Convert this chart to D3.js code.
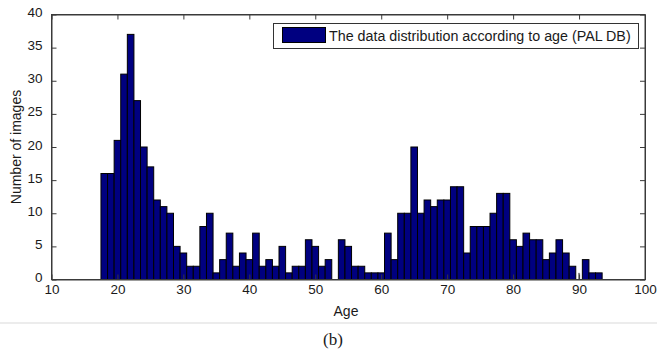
<!DOCTYPE html>
<html>
<head>
<meta charset="utf-8">
<script src="https://cdn.jsdelivr.net/npm/d3@7"></script>
<style>
  body { margin: 0; background: #fff; }
  svg text { font-family: "Liberation Sans", Arial, sans-serif; fill: #1a1a1a; }
</style>
</head>
<body>
<div id="vis"></div>
<script>
// ages (one bar per year) and how many images fall in each
var ages = [18, 19, 20, 21, 22, 23, 24, 25, 26, 27, 28, 29, 30, 31, 32, 33, 34, 35,
    36, 37, 38, 39, 40, 41, 42, 43, 44, 45, 46, 47, 48, 49, 50, 51, 52, 53, 54, 55,
    56, 57, 58, 59, 60, 61, 62, 63, 64, 65, 66, 67, 68, 69, 70, 71, 72, 73, 74, 75,
    76, 77, 78, 79, 80, 81, 82, 83, 84, 85, 86, 87, 88, 89, 90, 91, 92, 93];
var counts = [16, 16, 21, 31, 37, 27, 20, 17, 12, 11, 10, 5, 4, 2, 2, 8, 10, 1,
    3, 7, 2, 4, 3, 7, 2, 3, 2, 5, 1, 2, 2, 6, 5, 2, 3, 0, 6, 5,
    2, 2, 1, 1, 1, 7, 3, 10, 10, 20, 10, 12, 11, 12, 12, 14, 14, 4, 8, 8,
    8, 10, 13, 13, 6, 5, 7, 6, 6, 3, 4, 6, 4, 2, 1, 3, 1, 1];
// the bar at 90 only shows up as a thin sliver in the original
var sliverAges = [90];

var xTicks = [10, 20, 30, 40, 50, 60, 70, 80, 90, 100];
var yTicks = [0, 5, 10, 15, 20, 25, 30, 35, 40];
var legendLabel = "The data distribution according to age (PAL DB)";

var width = 657, height = 351;
var plotL = 51.5, plotR = 645, plotT = 14.5, plotB = 279.5;

var svg = d3.select("#vis").append("svg")
    .attr("width", width)
    .attr("height", height);

var x = d3.scaleLinear().domain([10, 100]).range([plotL, plotR]);
var y = d3.scaleLinear().domain([0, 40]).range([plotB, plotT]);

var data = ages.map(function (a, i) { return {age: a, n: counts[i]}; });
function isSliver(d) { return sliverAges.indexOf(d.age) >= 0; }

// bars
svg.append("g").selectAll("rect")
    .data(data.filter(function (d) { return d.n > 0; }))
    .enter().append("rect")
    .attr("x", function (d) {
        return isSliver(d) ? x(d.age) - 1 : x(d.age - 0.5);
    })
    .attr("width", function (d) {
        return isSliver(d) ? 2 : x(d.age + 0.5) - x(d.age - 0.5);
    })
    .attr("y", function (d) { return y(d.n); })
    .attr("height", function (d) { return y(0) - y(d.n); })
    .attr("fill", function (d) { return isSliver(d) ? "#888" : "#000080"; })
    .attr("stroke", function (d) { return isSliver(d) ? "none" : "#000"; })
    .attr("stroke-width", 1);

// axes, ticks drawn inward like matlab
var axisColor = "#3a3a3a";
var xb = svg.append("g").attr("transform", "translate(0," + plotB + ")")
    .call(d3.axisBottom(x).tickValues(xTicks).tickSizeInner(-5).tickSizeOuter(0).tickPadding(8));
var xt = svg.append("g").attr("transform", "translate(0," + plotT + ")")
    .call(d3.axisTop(x).tickValues(xTicks).tickSizeInner(-5).tickSizeOuter(0).tickFormat(""));
var yl = svg.append("g").attr("transform", "translate(" + plotL + ",0)")
    .call(d3.axisLeft(y).tickValues(yTicks).tickSizeInner(-5).tickSizeOuter(0).tickPadding(9));
var yr = svg.append("g").attr("transform", "translate(" + plotR + ",0)")
    .call(d3.axisRight(y).tickValues(yTicks).tickSizeInner(-5).tickSizeOuter(0).tickFormat(""));

[xb, xt, yl, yr].forEach(function (g) {
    g.selectAll("path, line").attr("stroke", axisColor);
    g.selectAll("text").style("font-size", "13.5px").attr("fill", "#1a1a1a");
});
yl.selectAll("text").attr("dy", "0.15em");
xb.selectAll("text").attr("dy", "0.45em");

svg.append("rect")
    .attr("x", plotL).attr("y", plotT)
    .attr("width", plotR - plotL).attr("height", plotB - plotT)
    .attr("fill", "none").attr("stroke", axisColor);

// axis titles
svg.append("text")
    .attr("x", 346).attr("y", 316)
    .attr("text-anchor", "middle")
    .style("font-size", "14px")
    .text("Age");

svg.append("text")
    .attr("transform", "translate(21,147) rotate(-90)")
    .attr("text-anchor", "middle")
    .style("font-size", "14px")
    .text("Number of images");

// legend
var lg = svg.append("g");
lg.append("rect")
    .attr("x", 273.5).attr("y", 23.5).attr("width", 365).attr("height", 25)
    .attr("fill", "#fff").attr("stroke", "#333");
lg.append("rect")
    .attr("x", 282.5).attr("y", 27.5).attr("width", 43).attr("height", 15)
    .attr("fill", "#000080").attr("stroke", "#000");
var lt = lg.append("text")
    .attr("x", 329).attr("y", 40.5)
    .style("font-size", "12.5px")
    .text(legendLabel);
var w = lt.node().getComputedTextLength();
lt.style("font-size", (12.5 * 302 / w) + "px");

// caption below the figure
svg.append("rect")
    .attr("x", 0).attr("y", 322).attr("width", width).attr("height", 2)
    .attr("fill", "#ececec");
svg.append("text")
    .attr("x", 333).attr("y", 345)
    .attr("text-anchor", "middle")
    .style("font-family", "'Liberation Serif', 'Times New Roman', serif")
    .style("font-size", "17px")
    .attr("fill", "#000")
    .text("(b)");
</script>
</body>
</html>
